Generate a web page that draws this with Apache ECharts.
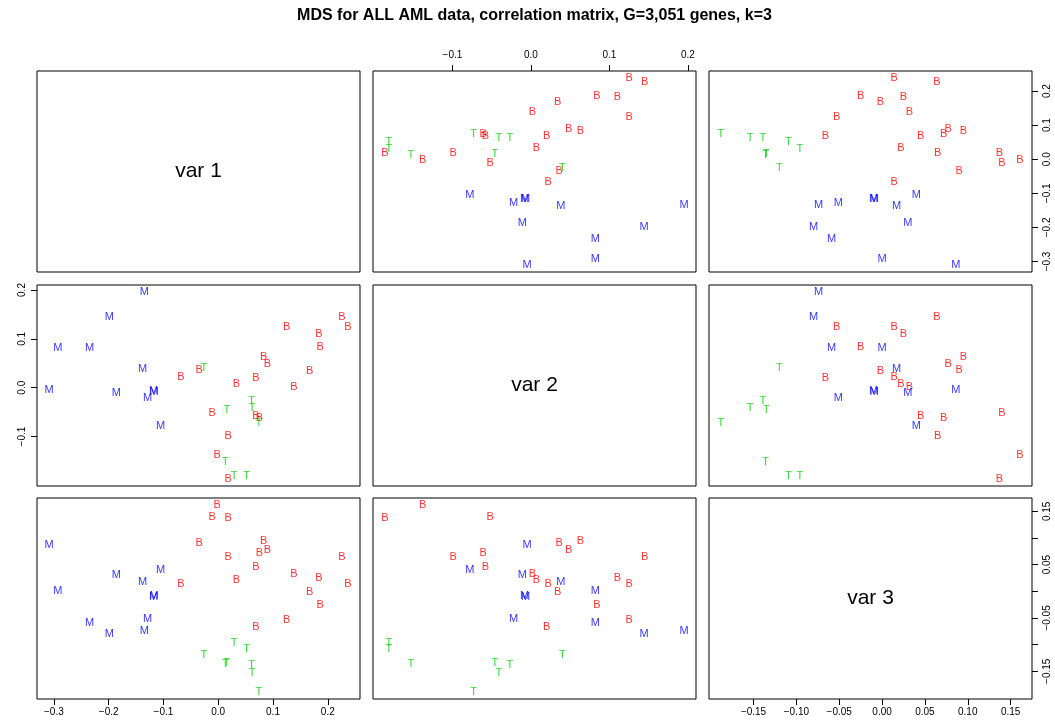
<!DOCTYPE html>
<html>
<head>
<meta charset="utf-8">
<script src="https://cdn.jsdelivr.net/npm/echarts@6.0.0/dist/echarts.min.js"></script>
<style>
html,body{margin:0;padding:0;background:#fff}
#main{width:1055px;height:727px}
</style>
</head>
<body>
<div id="main"></div>
<script>
// sample types: B = B-cell ALL, T = T-cell ALL, M = AML
var types = ['B','B','B','B','B','B','B','B','B','B','B','B','B','B','B','B','B','B','B',
             'T','T','T','T','T','T','T','T',
             'M','M','M','M','M','M','M','M','M','M','M'];
var var1 = [0.226,0.237,0.125,0.184,0.186,0.083,0.090,0.167,-0.035,-0.068,0.069,0.033,0.138,-0.011,0.069,0.075,0.018,-0.002,0.018,
            -0.026,0.016,0.061,0.062,0.074,0.013,0.029,0.052,
            -0.135,-0.199,-0.293,-0.235,-0.138,-0.309,-0.186,-0.117,-0.118,-0.129,-0.105];
var var2 = [0.145,0.125,0.125,0.110,0.084,0.063,0.048,0.034,0.036,0.022,0.020,0.007,0.002,-0.052,-0.058,-0.061,-0.099,-0.138,-0.186,
            0.040,-0.046,-0.027,-0.041,-0.073,-0.153,-0.181,-0.181,
            0.195,0.144,0.082,0.082,0.038,-0.005,-0.011,-0.008,-0.007,-0.022,-0.078];
var var3 = [0.064,0.014,-0.053,0.025,-0.025,0.095,0.077,-0.002,0.090,0.014,-0.066,0.022,0.032,0.140,0.045,0.072,0.065,0.161,0.137,
            -0.120,-0.135,-0.139,-0.154,-0.188,-0.136,-0.096,-0.109,
            -0.074,-0.080,0.000,-0.059,0.017,0.086,0.030,-0.009,-0.010,-0.051,0.040];

var varNames = ['var 1','var 2','var 3'];
var ticks1 = [-0.3,-0.2,-0.1,0,0.1,0.2];
var ticks2 = [-0.1,0,0.1,0.2];
var ticks3 = [-0.15,-0.1,-0.05,0,0.05,0.1,0.15];
var ticks3Right = [-0.15,-0.05,0.05,0.15];
var digits = [1,1,2];
var typeColor = {B:'#FF0000', T:'#00CD00', M:'#0000FF'};

var vars = [var1,var2,var3];
var ticks = [ticks1,ticks2,ticks3];

// R style limits: data range plus 4% each side
function lims(a){
    var lo = Math.min.apply(null,a), hi = Math.max.apply(null,a), d = (hi-lo)*0.04;
    return [lo-d, hi+d];
}
function fmt(n){
    return function(v){ return v.toFixed(digits[n]).replace('-','\u2212'); };
}

var lefts = [37,373,709], tops = [71,285,498], W = 323, H = 201;
var font = 'Liberation Sans';
var grids = [], xAxes = [], yAxes = [], series = [], graphics = [];

for (var i = 0; i < 3; i++) {
    for (var j = 0; j < 3; j++) {
        var k = i*3 + j;
        grids.push({left:lefts[j], top:tops[i], width:W, height:H, show:true,
                    borderColor:'#000', borderWidth:1, backgroundColor:'transparent'});
        var xl = lims(vars[j]), yl = lims(vars[i]);
        // which sides get ticks + labels (like pairs())
        var xPos = null, yPos = null, yLab = ticks[i];
        if (i == 2 && (j == 0 || j == 2)) xPos = 'bottom';
        if (i == 0 && j == 1) xPos = 'top';
        if (i == 1 && j == 0) yPos = 'left';
        if (j == 2 && (i == 0 || i == 2)) yPos = 'right';
        if (i == 2 && j == 2) yLab = ticks3Right;
        xAxes.push({
            type:'value', gridIndex:k, min:xl[0], max:xl[1], position:xPos || 'bottom',
            axisLine:{show:false, onZero:false}, splitLine:{show:false},
            axisTick:{show:!!xPos, inside:false, length:6, customValues:ticks[j],
                      lineStyle:{color:'#000'}},
            axisLabel:{show:!!xPos, customValues:ticks[j], formatter:fmt(j),
                       margin:(xPos == 'top' ? 11 : 8), color:'#000', fontSize:10, fontFamily:font}
        });
        yAxes.push({
            type:'value', gridIndex:k, min:yl[0], max:yl[1], position:yPos || 'left',
            axisLine:{show:false, onZero:false}, splitLine:{show:false},
            axisTick:{show:!!yPos, inside:false, length:6, customValues:ticks[i],
                      lineStyle:{color:'#000'}},
            axisLabel:{show:!!yPos, customValues:yLab, formatter:fmt(i), rotate:90,
                       margin:10, color:'#000', fontSize:10, fontFamily:font}
        });
        if (i == j) {
            graphics.push({type:'text', x:lefts[j] + W/2, y:tops[i] + H/2,
                style:{text:varNames[i], textAlign:'center', textVerticalAlign:'middle',
                       font:'21px "' + font + '"', fill:'#000'}});
            continue;
        }
        var pts = [];
        for (var n = 0; n < types.length; n++) {
            pts.push({name:types[n], value:[vars[j][n], vars[i][n]],
                      label:{color:typeColor[types[n]]}});
        }
        series.push({
            type:'scatter', xAxisIndex:k, yAxisIndex:k, data:pts,
            symbol:'circle', symbolSize:0.01, itemStyle:{color:'rgba(0,0,0,0)'},
            label:{show:true, position:'inside', formatter:'{b}', fontSize:11, fontFamily:font},
            silent:true
        });
    }
}

graphics.push({type:'text', x:534.5, y:16,
    style:{text:'MDS for ALL AML data, correlation matrix, G=3,051 genes, k=3',
           textAlign:'center', textVerticalAlign:'middle',
           font:'bold 16px "' + font + '"', fill:'#000'}});

var option = {
    backgroundColor:'#fff',
    animation:false,
    grid:grids,
    xAxis:xAxes,
    yAxis:yAxes,
    series:series,
    graphic:graphics
};

var myChart = echarts.init(document.getElementById('main'));
myChart.setOption(option);
</script>
</body>
</html>
